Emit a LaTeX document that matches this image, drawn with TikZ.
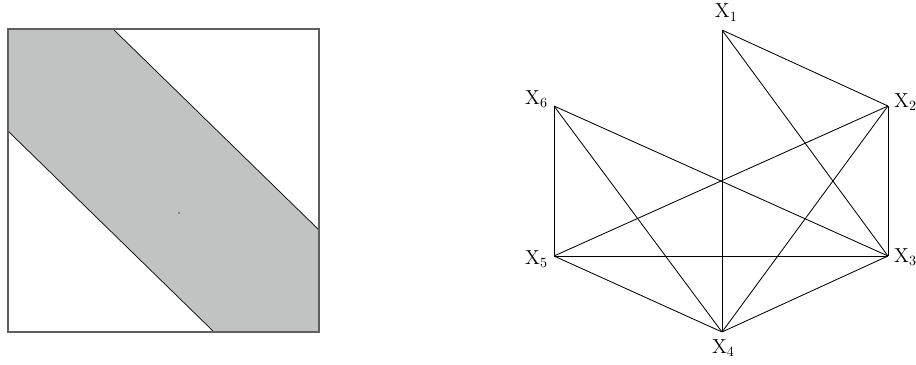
\documentclass[tikz,border=0pt]{standalone}
\usepackage{tikz}
\usetikzlibrary{positioning}
\definecolor{bandgray}{RGB}{193,195,195}
\definecolor{framegray}{RGB}{95,95,95}
\tikzset{vtx/.style={inner sep=0pt,minimum size=0pt},
  vlab/.style={font=\Large,inner sep=1pt},
  edge/.style={line width=0.6pt}}

\begin{document}
\begin{tikzpicture}[x=0.025cm,y=-0.025cm]
\useasboundingbox (0,0) rectangle (916,364);
% left panel: square with shaded band
\fill[bandgray](8,29)--(113,29)--(319,230)--(319,332)--(214,332)--(8,131)--cycle;
\draw[line width=0.5pt](113,29)--(319,230); \draw[line width=0.5pt](8,131)--(214,332);
\draw[framegray,line width=0.8pt](8,29) rectangle (319,332);
\fill[black!70](179,213) circle (0.9);
% right panel: graph on six vertices
\node[vtx] (x1) at (722,30) {}; \node[vlab,above=5pt of x1,xshift=3pt] {$\mathrm{X}_1$};
\node[vtx] (x2) at (888,106) {}; \node[vlab,right=3pt of x2,yshift=3pt] {$\mathrm{X}_2$};
\node[vtx] (x3) at (888,256) {}; \node[vlab,right=3pt of x3,yshift=-1pt] {$\mathrm{X}_3$};
\node[vtx] (x4) at (722,332) {}; \node[vlab,below=4pt of x4,xshift=1pt] {$\mathrm{X}_4$};
\node[vtx] (x5) at (554,256) {}; \node[vlab,left=3pt of x5,yshift=-2pt] {$\mathrm{X}_5$};
\node[vtx] (x6) at (554,106) {}; \node[vlab,left=3pt of x6,yshift=5pt] {$\mathrm{X}_6$};
\foreach \a/\b in {1/2,1/3,1/4,2/3,2/4,2/5,3/4,3/5,3/6,4/5,4/6,5/6}
  \draw[edge] (x\a)--(x\b);
\end{tikzpicture}
\end{document}
